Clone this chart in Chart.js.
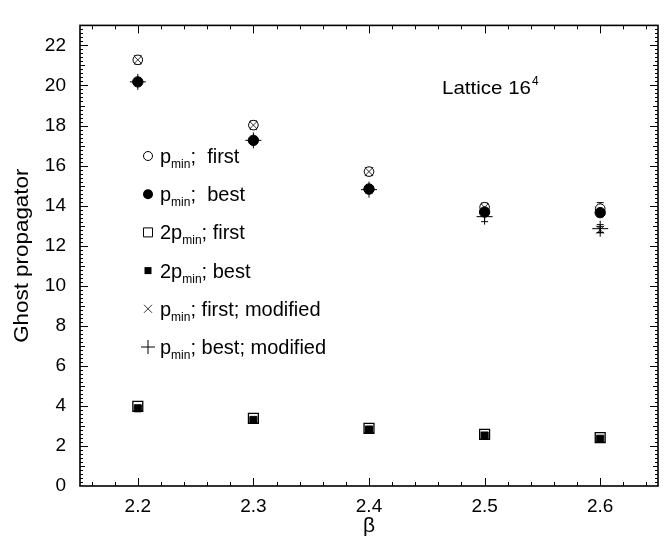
<!DOCTYPE html>
<html>
<head>
<meta charset="utf-8">
<script src="https://cdn.jsdelivr.net/npm/chart.js@4"></script>
<style>
html,body{margin:0;padding:0;background:#fff;}
canvas{display:block;}
</style>
</head>
<body>
<canvas id="c" width="671" height="546"></canvas>
<script>
// ---- data ----
const betas = [2.2, 2.3, 2.4, 2.5, 2.6];
const pminFirst = [21.28, 18.02, 15.70, 13.92, 13.85];
const pminFirstErr = [0.2, 0.2, 0.2, 0.2, 0.3];
const pminBest = [20.18, 17.26, 14.83, 13.68, 13.65];
const pminBestErr = [0.15, 0.15, 0.15, 0.15, 0.2];
const twoPminFirst = [3.98, 3.38, 2.88, 2.58, 2.42];
const twoPminFirstErr = [0.05, 0.05, 0.05, 0.05, 0.05];
const twoPminBest = [3.88, 3.30, 2.82, 2.52, 2.36];
const twoPminBestErr = [0.05, 0.05, 0.05, 0.05, 0.05];
const pminFirstMod = [21.28, 18.02, 15.70, 13.92, 12.80];
const pminFirstModErr = [0.2, 0.2, 0.2, 0.2, 0.15];
const pminBestMod = [20.18, 17.26, 14.80, 13.45, 12.85];
const pminBestModErr = [0.15, 0.15, 0.2, 0.25, 0.2];
const xTicks = [2.2, 2.3, 2.4, 2.5, 2.6];
const yTicks = [0, 2, 4, 6, 8, 10, 12, 14, 16, 18, 20, 22];
const legendLabels = [
  ["p", "min", ";  first"],
  ["p", "min", ";  best"],
  ["2p", "min", "; first"],
  ["2p", "min", "; best"],
  ["p", "min", "; first; modified"],
  ["p", "min", "; best; modified"]
];
const xTitle = "β";
const yTitle = "Ghost propagator";
const annot = ["Lattice 16", "4"];

const FONT = '"Liberation Sans", Arial, Helvetica, sans-serif';

function pts(ys, errs) {
  return betas.map((b, i) => ({x: b, y: ys[i], e: errs[i]}));
}

const datasets = [
  {label: "twoPminFirst", order: 6, data: pts(twoPminFirst, twoPminFirstErr), pointStyle: 'rect', radius: 7, backgroundColor: '#fff', borderColor: '#000', borderWidth: 1.3},
  {label: "twoPminBest", order: 5, data: pts(twoPminBest, twoPminBestErr), pointStyle: 'rect', radius: 5, backgroundColor: '#000', borderColor: '#000', borderWidth: 1},
  {label: "pminFirst", order: 4, data: pts(pminFirst, pminFirstErr), pointStyle: 'circle', radius: 4.8, backgroundColor: '#fff', borderColor: '#000', borderWidth: 1},
  {label: "pminFirstMod", order: 3, data: pts(pminFirstMod, pminFirstModErr), pointStyle: 'crossRot', radius: 5.5, backgroundColor: '#000', borderColor: '#000', borderWidth: 0.8},
  {label: "pminBest", order: 2, data: pts(pminBest, pminBestErr), pointStyle: 'circle', radius: 5.2, backgroundColor: '#000', borderColor: '#000', borderWidth: 1},
  {label: "pminBestMod", order: 1, data: pts(pminBestMod, pminBestModErr), pointStyle: 'cross', radius: 8, backgroundColor: '#000', borderColor: '#000', borderWidth: 1}
];

const errorBars = {
  id: 'errorBars',
  beforeDatasetsDraw(chart) {
    const ctx = chart.ctx;
    const xs = chart.scales.x, ys = chart.scales.y;
    ctx.save();
    ctx.strokeStyle = '#000';
    ctx.lineWidth = 1;
    chart.data.datasets.forEach(ds => {
      ds.data.forEach(p => {
        const px = xs.getPixelForValue(p.x);
        const y1 = ys.getPixelForValue(p.y - p.e);
        const y2 = ys.getPixelForValue(p.y + p.e);
        ctx.beginPath();
        ctx.moveTo(px, y1); ctx.lineTo(px, y2);
        ctx.moveTo(px - 3.5, y1); ctx.lineTo(px + 3.5, y1);
        ctx.moveTo(px - 3.5, y2); ctx.lineTo(px + 3.5, y2);
        ctx.stroke();
      });
    });
    ctx.restore();
  }
};

function stretchText(ctx, txt, x, y, sx) {
  ctx.save();
  ctx.translate(x, y);
  ctx.scale(sx, 1);
  ctx.fillText(txt, 0, 0);
  ctx.restore();
}

const frame = {
  id: 'frame',
  afterDraw(chart) {
    const ctx = chart.ctx;
    const a = chart.chartArea;
    const xs = chart.scales.x, ys = chart.scales.y;
    ctx.save();
    ctx.strokeStyle = '#000';
    ctx.lineWidth = 1;
    ctx.beginPath();
    for (let k = 108; k <= 132; k++) {
      const v = k / 50;
      const px = Math.round(xs.getPixelForValue(v)) + 0.5;
      const len = (k % 5 === 0) ? 8 : 4;
      ctx.moveTo(px, a.bottom); ctx.lineTo(px, a.bottom - len);
      ctx.moveTo(px, a.top); ctx.lineTo(px, a.top + len);
    }
    for (let k = 1; k < 115; k++) {
      const v = k / 5;
      const py = Math.round(ys.getPixelForValue(v)) + 0.5;
      let len = 3;
      if (k % 10 === 0) len = 8; else if (k % 5 === 0) len = 5;
      ctx.moveTo(a.left, py); ctx.lineTo(a.left + len, py);
      ctx.moveTo(a.right, py); ctx.lineTo(a.right - len, py);
    }
    ctx.stroke();
    ctx.lineWidth = 1.6;
    ctx.strokeRect(a.left, a.top, a.right - a.left, a.bottom - a.top);

    ctx.fillStyle = '#000';
    ctx.textBaseline = 'alphabetic';
    ctx.textAlign = 'left';
    ctx.font = '21px ' + FONT;
    const bw = ctx.measureText(xTitle).width;
    ctx.fillText(xTitle, (a.left + a.right) / 2 - bw / 2, 532);
    ctx.save();
    ctx.translate(28, (a.top + a.bottom) / 2);
    ctx.rotate(-Math.PI / 2);
    ctx.font = '20px ' + FONT;
    const tw = ctx.measureText(yTitle).width * 1.12;
    stretchText(ctx, yTitle, -tw / 2, 0, 1.12);
    ctx.restore();

    ctx.font = '19px ' + FONT;
    stretchText(ctx, annot[0], 442, 94, 1.08);
    const w0 = ctx.measureText(annot[0]).width * 1.08;
    ctx.font = '12px ' + FONT;
    ctx.fillText(annot[1], 442 + w0 + 1, 85);

    const lx = 148, ly0 = 156, dy = 38.2;
    legendLabels.forEach((lab, i) => {
      const cy = ly0 + i * dy;
      ctx.save();
      ctx.strokeStyle = '#000'; ctx.fillStyle = '#000'; ctx.lineWidth = 1;
      ctx.beginPath();
      if (i === 0) { ctx.arc(lx, cy, 4.5, 0, Math.PI * 2); ctx.fillStyle = '#fff'; ctx.fill(); ctx.stroke(); }
      else if (i === 1) { ctx.arc(lx, cy, 5, 0, Math.PI * 2); ctx.fill(); }
      else if (i === 2) { ctx.rect(lx - 4.5, cy - 4.5, 9, 9); ctx.fillStyle = '#fff'; ctx.fill(); ctx.stroke(); }
      else if (i === 3) { ctx.rect(lx - 3.5, cy - 3.5, 7, 7); ctx.fill(); }
      else if (i === 4) { ctx.strokeStyle = '#333'; ctx.moveTo(lx - 4, cy - 4); ctx.lineTo(lx + 4, cy + 4); ctx.moveTo(lx - 4, cy + 4); ctx.lineTo(lx + 4, cy - 4); ctx.stroke(); }
      else { ctx.moveTo(lx - 7, cy); ctx.lineTo(lx + 7, cy); ctx.moveTo(lx, cy - 7); ctx.lineTo(lx, cy + 7); ctx.stroke(); }
      ctx.restore();
      let tx = 160;
      const base = cy + 7;
      ctx.font = '20px ' + FONT;
      ctx.fillText(lab[0], tx, base);
      tx += ctx.measureText(lab[0]).width;
      ctx.font = '12px ' + FONT;
      ctx.fillText(lab[1], tx, base + 5);
      tx += ctx.measureText(lab[1]).width;
      ctx.font = '20px ' + FONT;
      ctx.fillText(lab[2], tx, base);
    });
    ctx.restore();
  }
};

new Chart(document.getElementById('c'), {
  type: 'scatter',
  data: {datasets},
  options: {
    responsive: false,
    animation: false,
    devicePixelRatio: 1,
    layout: {padding: {top: 5, right: 13, left: 0, bottom: 0}},
    plugins: {legend: {display: false}, tooltip: {enabled: false}, title: {display: false}},
    scales: {
      x: {
        type: 'linear', min: 2.15, max: 2.65,
        afterBuildTicks: s => { s.ticks = xTicks.map(v => ({value: v})); },
        afterFit: s => { s.height = 60; },
        grid: {display: false, drawTicks: false},
        border: {display: false},
        ticks: {color: '#000', font: {family: FONT, size: 19}, padding: 9, maxRotation: 0,
                callback: v => v.toFixed(1)}
      },
      y: {
        type: 'linear', min: 0, max: 23,
        afterBuildTicks: s => { s.ticks = yTicks.map(v => ({value: v})); },
        afterFit: s => { s.width = 80; },
        grid: {display: false, drawTicks: false},
        border: {display: false},
        ticks: {color: '#000', font: {family: FONT, size: 19}, padding: 14}
      }
    }
  },
  plugins: [errorBars, frame]
});
</script>
</body>
</html>
